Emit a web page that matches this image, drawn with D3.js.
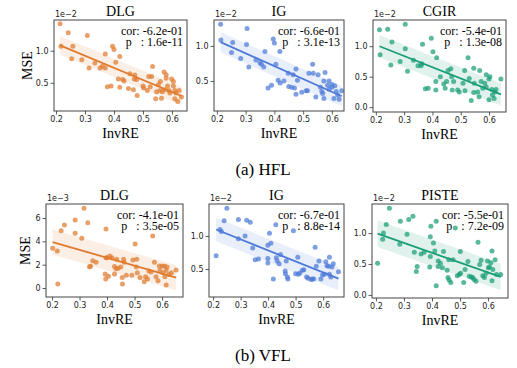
<!DOCTYPE html>
<html>
<head>
<meta charset="utf-8">
<script src="https://cdn.jsdelivr.net/npm/d3@7"></script>
<style>
  body { margin: 0; background: #fff; }
  svg { display: block; }
  .tick text { font-family: "DejaVu Sans", sans-serif; font-size: 8px; fill: #222; }
  .tick line { stroke: #333; stroke-width: 0.8; }
</style>
</head>
<body>
<div id="chart"></div>
<script>
// values, x = InvRE, y = MSE (in units of the axis multiplier)
const hflDlg = [[0.214,1.42],[0.242,1.28],[0.217,1.07],[0.258,1.07],[0.308,1.24],[0.254,0.875],[0.289,0.86],
  [0.314,0.73],[0.334,0.81],[0.352,0.73],[0.36,0.76],[0.37,0.73],[0.37,0.95],[0.395,1.07],[0.40,1.02],
  [0.406,0.82],[0.42,0.91],[0.415,0.56],[0.377,0.44],[0.39,0.45],[0.42,0.43],[0.43,0.55],[0.435,0.53],
  [0.455,0.64],[0.45,0.41],[0.467,0.39],[0.47,0.56],[0.472,0.62],[0.478,0.55],[0.48,0.30],[0.50,0.45],
  [0.502,0.42],[0.515,0.38],[0.525,0.44],[0.533,0.755],[0.52,0.60],[0.53,0.60],[0.544,0.25],[0.553,0.47],
  [0.547,0.36],[0.56,0.52],[0.559,0.38],[0.567,0.36],[0.564,0.26],[0.573,0.67],[0.58,0.57],[0.576,0.39],
  [0.585,0.45],[0.59,0.38],[0.593,0.34],[0.599,0.56],[0.605,0.52],[0.605,0.45],[0.61,0.25],[0.61,0.38],
  [0.614,0.34],[0.625,0.38],[0.633,0.28],[0.62,0.21],[0.58,0.625]];

const hflIg = [[0.213,1.31],[0.214,1.085],[0.255,1.05],[0.251,0.905],[0.283,0.82],[0.305,1.25],[0.303,1.02],
  [0.311,0.70],[0.336,0.80],[0.35,0.76],[0.355,0.74],[0.363,0.70],[0.367,0.92],[0.378,0.40],[0.39,0.44],
  [0.396,1.10],[0.40,1.04],[0.405,0.74],[0.419,0.92],[0.413,0.51],[0.42,0.47],[0.433,0.50],[0.448,0.61],
  [0.45,0.42],[0.46,0.41],[0.47,0.40],[0.465,0.59],[0.475,0.67],[0.48,0.51],[0.475,0.31],[0.495,0.34],
  [0.51,0.36],[0.515,0.36],[0.52,0.61],[0.533,0.74],[0.535,0.61],[0.544,0.27],[0.552,0.59],[0.56,0.41],
  [0.565,0.35],[0.568,0.32],[0.572,0.50],[0.576,0.62],[0.585,0.44],[0.59,0.38],[0.59,0.50],[0.60,0.45],
  [0.60,0.41],[0.61,0.43],[0.615,0.35],[0.607,0.25],[0.62,0.30],[0.634,0.36],[0.625,0.24],[0.572,0.25]];

const hflCgir = [[0.213,1.27],[0.242,1.28],[0.215,0.86],[0.253,0.69],[0.257,1.07],[0.286,0.75],[0.304,1.36],
  [0.304,0.96],[0.312,0.59],[0.333,0.77],[0.349,0.68],[0.36,0.68],[0.362,0.71],[0.365,1.03],[0.375,0.30],
  [0.385,0.31],[0.396,1.13],[0.402,0.91],[0.415,0.81],[0.412,0.42],[0.412,0.28],[0.428,0.50],[0.44,0.38],
  [0.445,0.31],[0.45,0.42],[0.455,0.60],[0.465,0.63],[0.468,0.50],[0.47,0.28],[0.475,0.42],[0.489,0.28],
  [0.495,0.25],[0.508,0.39],[0.514,0.60],[0.515,0.27],[0.526,0.81],[0.53,0.47],[0.537,0.11],[0.546,0.24],
  [0.548,0.39],[0.546,0.64],[0.56,0.25],[0.565,0.17],[0.567,0.60],[0.572,0.42],[0.578,0.31],[0.585,0.39],
  [0.59,0.53],[0.59,0.33],[0.60,0.46],[0.603,0.50],[0.61,0.29],[0.60,0.12],[0.612,0.20],[0.618,0.14],
  [0.62,0.25],[0.625,0.29],[0.642,0.46]];

const vflDlg = [[0.202,3.40],[0.219,3.17],[0.221,0.34],[0.233,4.91],[0.245,5.40],[0.284,5.83],[0.284,4.69],
  [0.308,4.26],[0.316,6.83],[0.33,5.60],[0.336,1.83],[0.34,1.86],[0.348,2.34],[0.36,2.2],[0.393,1.20],
  [0.395,0.77],[0.396,5.06],[0.396,2.6],[0.40,2.6],[0.41,2.75],[0.405,1.0],[0.418,2.6],[0.427,1.85],
  [0.427,1.2],[0.433,1.66],[0.435,2.46],[0.44,1.7],[0.45,1.8],[0.455,0.9],[0.456,0.34],[0.46,2.46],
  [0.462,2.2],[0.47,1.1],[0.49,1.1],[0.494,2.4],[0.502,3.77],[0.506,1.8],[0.508,2.46],[0.51,1.3],
  [0.52,0.9],[0.535,0.54],[0.54,0.97],[0.547,0.77],[0.552,1.46],[0.56,1.37],[0.566,4.46],[0.572,2.2],
  [0.578,0.97],[0.585,0.63],[0.59,1.88],[0.592,1.52],[0.60,1.89],[0.603,1.3],[0.609,1.86],[0.61,0.96],
  [0.615,0.26],[0.615,1.5],[0.618,1.8],[0.625,1.15],[0.651,1.54],[0.634,1.3]];

const vflIg = [[0.211,0.70],[0.225,1.10],[0.23,1.07],[0.24,1.23],[0.25,1.42],[0.292,1.25],[0.292,0.96],
  [0.316,1.0],[0.322,1.24],[0.335,1.21],[0.344,0.82],[0.353,0.64],[0.365,0.65],[0.399,0.59],[0.399,0.66],
  [0.399,0.86],[0.405,1.04],[0.41,0.89],[0.419,0.35],[0.428,1.17],[0.43,0.67],[0.433,0.62],[0.44,0.58],
  [0.445,0.72],[0.462,0.47],[0.463,0.43],[0.466,0.62],[0.47,0.38],[0.472,0.35],[0.492,1.08],[0.50,0.43],
  [0.508,0.68],[0.51,0.42],[0.515,0.44],[0.525,0.48],[0.53,0.49],[0.54,0.38],[0.545,0.36],[0.556,0.34],
  [0.561,0.35],[0.566,0.35],[0.571,0.83],[0.575,0.54],[0.585,0.62],[0.592,0.35],[0.598,0.41],[0.605,0.42],
  [0.61,0.61],[0.614,0.55],[0.62,0.54],[0.623,0.68],[0.623,0.42],[0.628,0.38],[0.637,0.58],[0.656,0.46],
  [0.632,0.53]];

const vflPiste = [[0.206,0.51],[0.227,1.0],[0.224,0.9],[0.237,1.14],[0.248,1.40],[0.285,0.82],[0.287,1.19],
  [0.311,0.98],[0.317,1.22],[0.332,1.27],[0.337,0.69],[0.344,0.38],[0.347,0.46],[0.361,0.66],[0.372,0.69],
  [0.392,0.45],[0.394,0.62],[0.394,0.94],[0.396,1.11],[0.405,0.84],[0.41,0.71],[0.415,0.15],[0.415,1.19],
  [0.422,0.55],[0.422,0.46],[0.43,0.51],[0.437,0.44],[0.441,0.70],[0.454,0.40],[0.457,0.28],[0.46,0.57],
  [0.461,0.24],[0.467,0.20],[0.475,0.57],[0.483,1.08],[0.49,0.31],[0.497,0.33],[0.502,0.35],[0.501,0.70],
  [0.513,0.20],[0.518,0.41],[0.528,0.54],[0.533,0.30],[0.54,0.29],[0.545,0.28],[0.55,0.25],[0.557,0.22],
  [0.564,0.85],[0.57,0.49],[0.575,0.56],[0.581,0.31],[0.587,0.28],[0.593,0.35],[0.598,0.55],[0.601,0.44],
  [0.605,0.45],[0.61,0.52],[0.614,0.71],[0.614,0.23],[0.617,0.41],[0.625,0.57],[0.63,0.33],[0.645,0.33]];

const titles = ["DLG", "IG", "CGIR", "DLG", "IG", "PISTE"];
const corText = ["-6.2e-01", "-6.6e-01", "-5.4e-01", "-4.1e-01", "-6.7e-01", "-5.5e-01"];
const pText = ["1.6e-11", "3.1e-13", "1.3e-08", "3.5e-05", "8.8e-14", "7.2e-09"];
const multipliers = ["1e\u22122", "1e\u22122", "1e\u22122", "1e\u22123", "1e\u22122", "1e\u22122"];
const xTicks = [0.2, 0.3, 0.4, 0.5, 0.6];
const yTicks = [[0.5, 1.0], [0.5, 1.0], [0.0, 0.5, 1.0], [0, 2, 4, 6], [0.5, 1.0], [0.0, 0.5, 1.0]];
const captions = ["(a) HFL", "(b) VFL"];

// layout: frame box in px and axis ranges for each panel
const panels = [
  { data: hflDlg,   x0: 54,  x1: 187, y0: 20,  y1: 111, xd: [0.193, 0.652], yd: [0.06, 1.48],  col: "#e07b2e" },
  { data: hflIg,    x0: 214, x1: 344, y0: 20,  y1: 111, xd: [0.19, 0.642],  yd: [0.071, 1.37], col: "#4e7ad8" },
  { data: hflCgir,  x0: 373, x1: 506, y0: 20,  y1: 112, xd: [0.19, 0.66],   yd: [-0.08, 1.43], col: "#1a9e77" },
  { data: vflDlg,   x0: 46,  x1: 183, y0: 204, y1: 297, xd: [0.178, 0.676], yd: [-0.77, 7.2],  col: "#e07b2e" },
  { data: vflIg,    x0: 209, x1: 344, y0: 204, y1: 297, xd: [0.185, 0.676], yd: [0.076, 1.485], col: "#4e7ad8" },
  { data: vflPiste, x0: 372, x1: 508, y0: 204, y1: 298, xd: [0.186, 0.671], yd: [-0.05, 1.47], col: "#1a9e77" }
];

const serif = "'Liberation Serif', 'Times New Roman', serif";

const svg = d3.select("#chart").append("svg")
  .attr("width", 517)
  .attr("height", 368);

// least squares fit + residual spread for the shaded band
function fit(pts) {
  const mx = d3.mean(pts, d => d[0]), my = d3.mean(pts, d => d[1]);
  const sxy = d3.sum(pts, d => (d[0] - mx) * (d[1] - my));
  const sxx = d3.sum(pts, d => (d[0] - mx) * (d[0] - mx));
  const b = sxy / sxx, a = my - b * mx;
  const sd = Math.sqrt(d3.sum(pts, d => Math.pow(d[1] - (a + b * d[0]), 2)) / (pts.length - 2));
  return { a, b, sd };
}

panels.forEach(function(p, i) {
  const g = svg.append("g");
  const x = d3.scaleLinear().domain(p.xd).range([p.x0, p.x1]);
  const y = d3.scaleLinear().domain(p.yd).range([p.y1, p.y0]);
  const f = fit(p.data);
  const ext = d3.extent(p.data, d => d[0]);
  const xs = d3.range(0, 21).map(k => ext[0] + (ext[1] - ext[0]) * k / 20);

  g.selectAll("circle")
    .data(p.data)
    .join("circle")
      .attr("cx", d => x(d[0]))
      .attr("cy", d => y(d[1]))
      .attr("r", 2.5)
      .attr("fill", p.col)
      .attr("fill-opacity", 0.72);

  const band = d3.area()
    .x(d => x(d))
    .y0(d => y(f.a + f.b * d - f.sd * 0.85))
    .y1(d => y(f.a + f.b * d + f.sd * 0.85));
  g.append("path").datum(xs)
    .attr("d", band)
    .attr("fill", p.col)
    .attr("fill-opacity", 0.13);

  g.append("path").datum(ext)
    .attr("d", d3.line().x(d => x(d)).y(d => y(f.a + f.b * d)))
    .attr("stroke", p.col)
    .attr("stroke-width", 1.8)
    .attr("fill", "none");

  // frame
  g.append("rect")
    .attr("x", p.x0).attr("y", p.y0)
    .attr("width", p.x1 - p.x0).attr("height", p.y1 - p.y0)
    .attr("fill", "none")
    .attr("stroke", "#444")
    .attr("stroke-width", 1);

  const xaxis = d3.axisBottom(x).tickValues(xTicks).tickSize(3.5).tickPadding(2)
    .tickFormat(d3.format(".1f"));
  const yaxis = d3.axisLeft(y).tickValues(yTicks[i]).tickSize(3.5).tickPadding(2)
    .tickFormat(i == 3 ? d3.format("d") : d3.format(".1f"));
  g.append("g").attr("transform", `translate(0,${p.y1})`).call(xaxis)
    .call(s => s.select(".domain").remove());
  g.append("g").attr("transform", `translate(${p.x0},0)`).call(yaxis)
    .call(s => s.select(".domain").remove());

  g.append("text")
    .attr("x", p.x0 + 1).attr("y", p.y0 - 3)
    .attr("font-family", "DejaVu Sans, sans-serif").attr("font-size", 8).attr("fill", "#222")
    .text(multipliers[i]);

  g.append("text")
    .attr("x", (p.x0 + p.x1) / 2).attr("y", p.y0 - 4)
    .attr("text-anchor", "middle")
    .attr("font-family", serif).attr("font-size", 14)
    .text(titles[i]);

  g.append("text")
    .attr("x", (p.x0 + p.x1) / 2).attr("y", p.y1 + 27)
    .attr("text-anchor", "middle")
    .attr("font-family", serif).attr("font-size", 14)
    .text("InvRE");

  const ann = g.append("text")
    .attr("font-family", serif).attr("font-size", 12)
    .attr("text-anchor", "end")
    .style("white-space", "pre");
  ann.append("tspan").attr("x", p.x1 - 4).attr("y", p.y0 + 15).text("cor: " + corText[i]);
  ann.append("tspan").attr("x", p.x1 - 4).attr("y", p.y0 + 26).text("p   : " + pText[i]);

  if (i % 3 == 0) {
    const cx = i == 0 ? 32 : 30;
    svg.append("text")
      .attr("transform", `translate(${cx},${(p.y0 + p.y1) / 2}) rotate(-90)`)
      .attr("text-anchor", "middle")
      .attr("font-family", serif).attr("font-size", 14)
      .text("MSE");
  }
});

svg.selectAll(".caption")
  .data(captions)
  .join("text")
    .attr("class", "caption")
    .attr("x", 263)
    .attr("y", (d, i) => i == 0 ? 175 : 361)
    .attr("text-anchor", "middle")
    .attr("font-family", serif)
    .attr("font-size", 17)
    .text(d => d);
</script>
</body>
</html>
